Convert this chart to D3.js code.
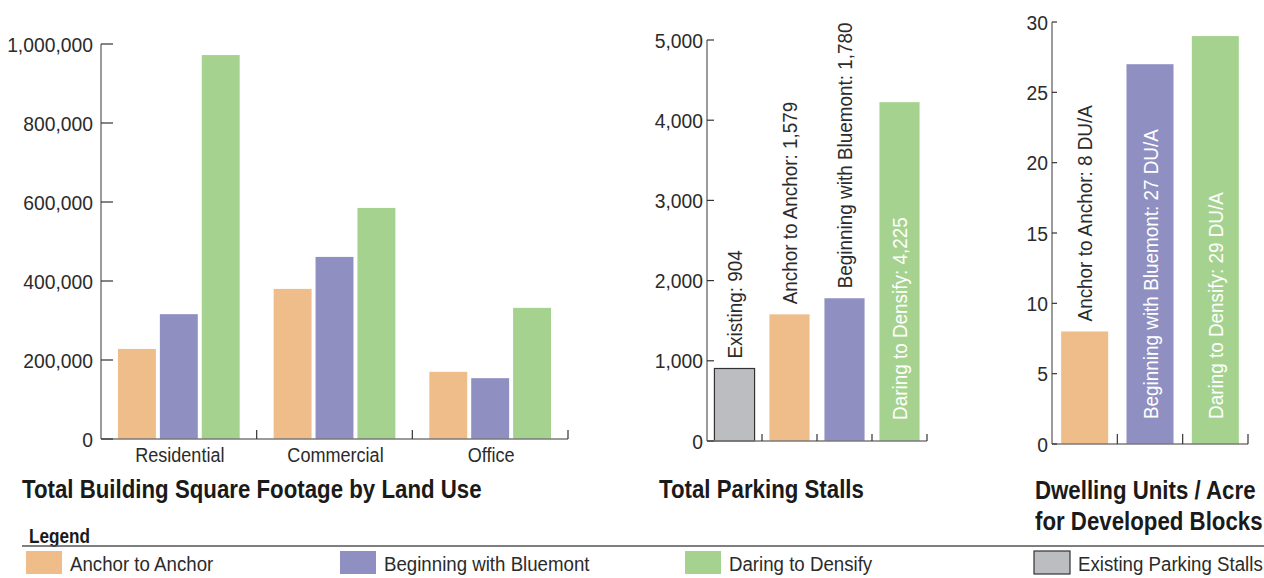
<!DOCTYPE html>
<html>
<head>
<meta charset="utf-8">
<script src="https://cdn.jsdelivr.net/npm/d3@7"></script>
<style>
  body { margin: 0; background: #fff; }
  svg text { font-family: 'Liberation Sans', Arial, Helvetica, sans-serif; fill: #2b2b2b; }
  .ttl { font-weight: bold; font-size: 26.5px; fill: #1a1a1a; }
</style>
</head>
<body>
<svg id="chart" width="1264" height="578"></svg>
<script>
// data
var categories = ["Residential", "Commercial", "Office"];
var scenarios = ["Anchor to Anchor", "Beginning with Bluemont", "Daring to Densify"];
var anchorSqft = [228000, 380000, 170000];
var bluemontSqft = [316000, 461000, 154000];
var densifySqft = [972000, 585000, 332000];
var sqftTicks = [0, 200000, 400000, 600000, 800000, 1000000];

var parkingLabels = ["Existing", "Anchor to Anchor", "Beginning with Bluemont", "Daring to Densify"];
var parkingValues = [904, 1579, 1780, 4225];
var parkingTicks = [0, 1000, 2000, 3000, 4000, 5000];

var duaLabels = ["Anchor to Anchor", "Beginning with Bluemont", "Daring to Densify"];
var duaValues = [8, 27, 29];
var duaTicks = [0, 5, 10, 15, 20, 25, 30];

var legendLabels = ["Anchor to Anchor", "Beginning with Bluemont", "Daring to Densify", "Existing Parking Stalls"];

// colours
var colors = {
  "Anchor to Anchor": "#eebd89",
  "Beginning with Bluemont": "#8f90c1",
  "Daring to Densify": "#a5d38f",
  "Existing": "#bcbdc1",
  "Existing Parking Stalls": "#bcbdc1"
};
var axisCol = "#7a7a7a";
var fmt = d3.format(",");

var svg = d3.select("#chart");

function yAxis(g, y, ticks, x, tickLen, gap) {
  g.append("line")
    .attr("x1", x).attr("x2", x)
    .attr("y1", y(ticks[ticks.length - 1])).attr("y2", y(0))
    .attr("stroke", axisCol).attr("stroke-width", 1.5);
  g.selectAll(".yt").data(ticks).enter().append("line")
    .attr("x1", x).attr("x2", x + tickLen)
    .attr("y1", function(d) { return y(d); }).attr("y2", function(d) { return y(d); })
    .attr("stroke", "#333").attr("stroke-width", 1.2);
  g.selectAll(".yl").data(ticks).enter().append("text")
    .attr("x", x - gap)
    .attr("y", function(d) { return y(d); })
    .attr("dy", "0.36em")
    .attr("text-anchor", "end")
    .attr("font-size", 21)
    .attr("data-r", 0.92)
    .text(function(d) { return fmt(d); });
}

function xBase(g, xs, y0, tickLen) {
  var r = xs.range();
  g.append("line")
    .attr("x1", r[0]).attr("x2", r[1])
    .attr("y1", y0).attr("y2", y0)
    .attr("stroke", axisCol).attr("stroke-width", 1.5);
  g.selectAll(".xt").data(xs.domain()).enter().append("line")
    .attr("x1", function(d) { return xs(d) + xs.step(); })
    .attr("x2", function(d) { return xs(d) + xs.step(); })
    .attr("y1", y0 - tickLen).attr("y2", y0)
    .attr("stroke", "#333").attr("stroke-width", 1.2);
}

// ---------- chart 1: building square footage ----------
var g1 = svg.append("g");
var y1 = d3.scaleLinear().domain([0, 1000000]).range([439, 44]);
var x1 = d3.scaleBand().domain(categories).range([101, 568]).paddingInner(0).paddingOuter(0);
var x1in = d3.scaleBand().domain(scenarios).range([0, x1.step()]).paddingInner(0.095).paddingOuter(0.405);

var sqftRows = [];
categories.forEach(function(c, i) {
  sqftRows.push({ cat: c, s: scenarios[0], v: anchorSqft[i] });
  sqftRows.push({ cat: c, s: scenarios[1], v: bluemontSqft[i] });
  sqftRows.push({ cat: c, s: scenarios[2], v: densifySqft[i] });
});

g1.selectAll(".bar").data(sqftRows).enter().append("rect")
  .attr("x", function(d) { return x1(d.cat) + x1in(d.s); })
  .attr("y", function(d) { return y1(d.v); })
  .attr("width", x1in.bandwidth())
  .attr("height", function(d) { return y1(0) - y1(d.v); })
  .attr("fill", function(d) { return colors[d.s]; });

xBase(g1, x1, 439, 9);
yAxis(g1, y1, sqftTicks, 101, 12, 8);

g1.selectAll(".cl").data(categories).enter().append("text")
  .attr("x", function(d) { return x1(d) + x1.step() / 2 + 1; })
  .attr("y", 462)
  .attr("text-anchor", "middle")
  .attr("font-size", 21)
  .attr("data-r", 0.86)
  .text(function(d) { return d; });

g1.append("text").attr("class", "ttl").attr("x", 22).attr("y", 498)
  .text("Total Building Square Footage by Land Use");

// ---------- chart 2: parking stalls ----------
var g2 = svg.append("g");
var y2 = d3.scaleLinear().domain([0, 5000]).range([441, 40]);
var x2 = d3.scaleBand().domain(parkingLabels).range([707, 927]).paddingInner(0).paddingOuter(0);
var bw2 = x2.step() * 0.73;

g2.selectAll(".bar").data(parkingLabels).enter().append("rect")
  .attr("x", function(d) { return x2(d) + (x2.step() - bw2) / 2; })
  .attr("y", function(d, i) { return y2(parkingValues[i]); })
  .attr("width", bw2)
  .attr("height", function(d, i) { return y2(0) - y2(parkingValues[i]); })
  .attr("fill", function(d) { return colors[d]; })
  .attr("stroke", function(d) { return d === "Existing" ? "#333" : "none"; })
  .attr("stroke-width", 1.2);

xBase(g2, x2, 441, 7);
yAxis(g2, y2, parkingTicks, 707, 7, 4);

g2.selectAll(".vl").data(parkingLabels).enter().append("text")
  .attr("transform", function(d, i) {
    var h = y2(0) - y2(parkingValues[i]);
    var cx = x2(d) + x2.step() / 2;
    var yy = h > 250 ? y2(0) - 21 : y2(parkingValues[i]) - 10;
    return "translate(" + cx + "," + yy + ") rotate(-90)";
  })
  .attr("dy", "0.36em")
  .attr("font-size", 21)
  .attr("data-r", 0.9)
  .style("fill", function(d, i) { return (y2(0) - y2(parkingValues[i])) > 250 ? "#fff" : "#2b2b2b"; })
  .text(function(d, i) { return d + ": " + fmt(parkingValues[i]); });

g2.append("text").attr("class", "ttl").attr("x", 659).attr("y", 498)
  .text("Total Parking Stalls");

// ---------- chart 3: dwelling units / acre ----------
var g3 = svg.append("g");
var y3 = d3.scaleLinear().domain([0, 30]).range([444, 22]);
var x3 = d3.scaleBand().domain(duaLabels).range([1052, 1248]).paddingInner(0).paddingOuter(0);
var bw3 = x3.step() * 0.72;

g3.selectAll(".bar").data(duaLabels).enter().append("rect")
  .attr("x", function(d) { return x3(d) + (x3.step() - bw3) / 2; })
  .attr("y", function(d, i) { return y3(duaValues[i]); })
  .attr("width", bw3)
  .attr("height", function(d, i) { return y3(0) - y3(duaValues[i]); })
  .attr("fill", function(d) { return colors[d]; });

xBase(g3, x3, 444, 10);
yAxis(g3, y3, duaTicks, 1052, 5, 4);

g3.selectAll(".vl").data(duaLabels).enter().append("text")
  .attr("transform", function(d, i) {
    var h = y3(0) - y3(duaValues[i]);
    var cx = x3(d) + x3.step() / 2;
    var yy = h > 250 ? y3(0) - 25 : y3(duaValues[i]) - 10;
    return "translate(" + cx + "," + yy + ") rotate(-90)";
  })
  .attr("dy", "0.36em")
  .attr("font-size", 21)
  .attr("data-r", 0.9)
  .style("fill", function(d, i) { return (y3(0) - y3(duaValues[i])) > 250 ? "#fff" : "#2b2b2b"; })
  .text(function(d, i) { return d + ": " + duaValues[i] + " DU/A"; });

g3.append("text").attr("class", "ttl").attr("x", 1035).attr("y", 499)
  .text("Dwelling Units / Acre");
g3.append("text").attr("class", "ttl").attr("x", 1035).attr("y", 530)
  .text("for Developed Blocks");

// ---------- legend ----------
var lg = svg.append("g");
lg.append("text").attr("x", 29).attr("y", 543)
  .attr("font-size", 19.5).attr("font-weight", "bold").style("fill", "#1a1a1a")
  .attr("data-r", 0.88)
  .text("Legend");
lg.append("line").attr("x1", 22).attr("x2", 1264).attr("y1", 546).attr("y2", 546)
  .attr("stroke", "#555").attr("stroke-width", 1.5);

var legX = [26, 340, 685, 1034];
var items = lg.selectAll(".li").data(legendLabels).enter().append("g")
  .attr("transform", function(d, i) { return "translate(" + legX[i] + ",551)"; });
items.append("rect")
  .attr("width", 36).attr("height", 23)
  .attr("fill", function(d) { return colors[d]; })
  .attr("stroke", function(d) { return d === "Existing Parking Stalls" ? "#333" : "none"; })
  .attr("stroke-width", 1.2);
items.append("text")
  .attr("x", 44).attr("y", 20)
  .attr("font-size", 21)
  .attr("data-r", 0.89)
  .text(function(d) { return d; });

// condensed look: squeeze each text along its baseline, around its anchor point
svg.selectAll("text").each(function() {
  var r = +this.getAttribute("data-r") || 0.84;
  var x = +this.getAttribute("x") || 0;
  var y = +this.getAttribute("y") || 0;
  var t = this.getAttribute("transform") || "";
  this.setAttribute("transform", t + " translate(" + x + "," + y + ") scale(" + r + ",1) translate(" + (-x) + "," + (-y) + ")");
});
</script>
</body>
</html>
